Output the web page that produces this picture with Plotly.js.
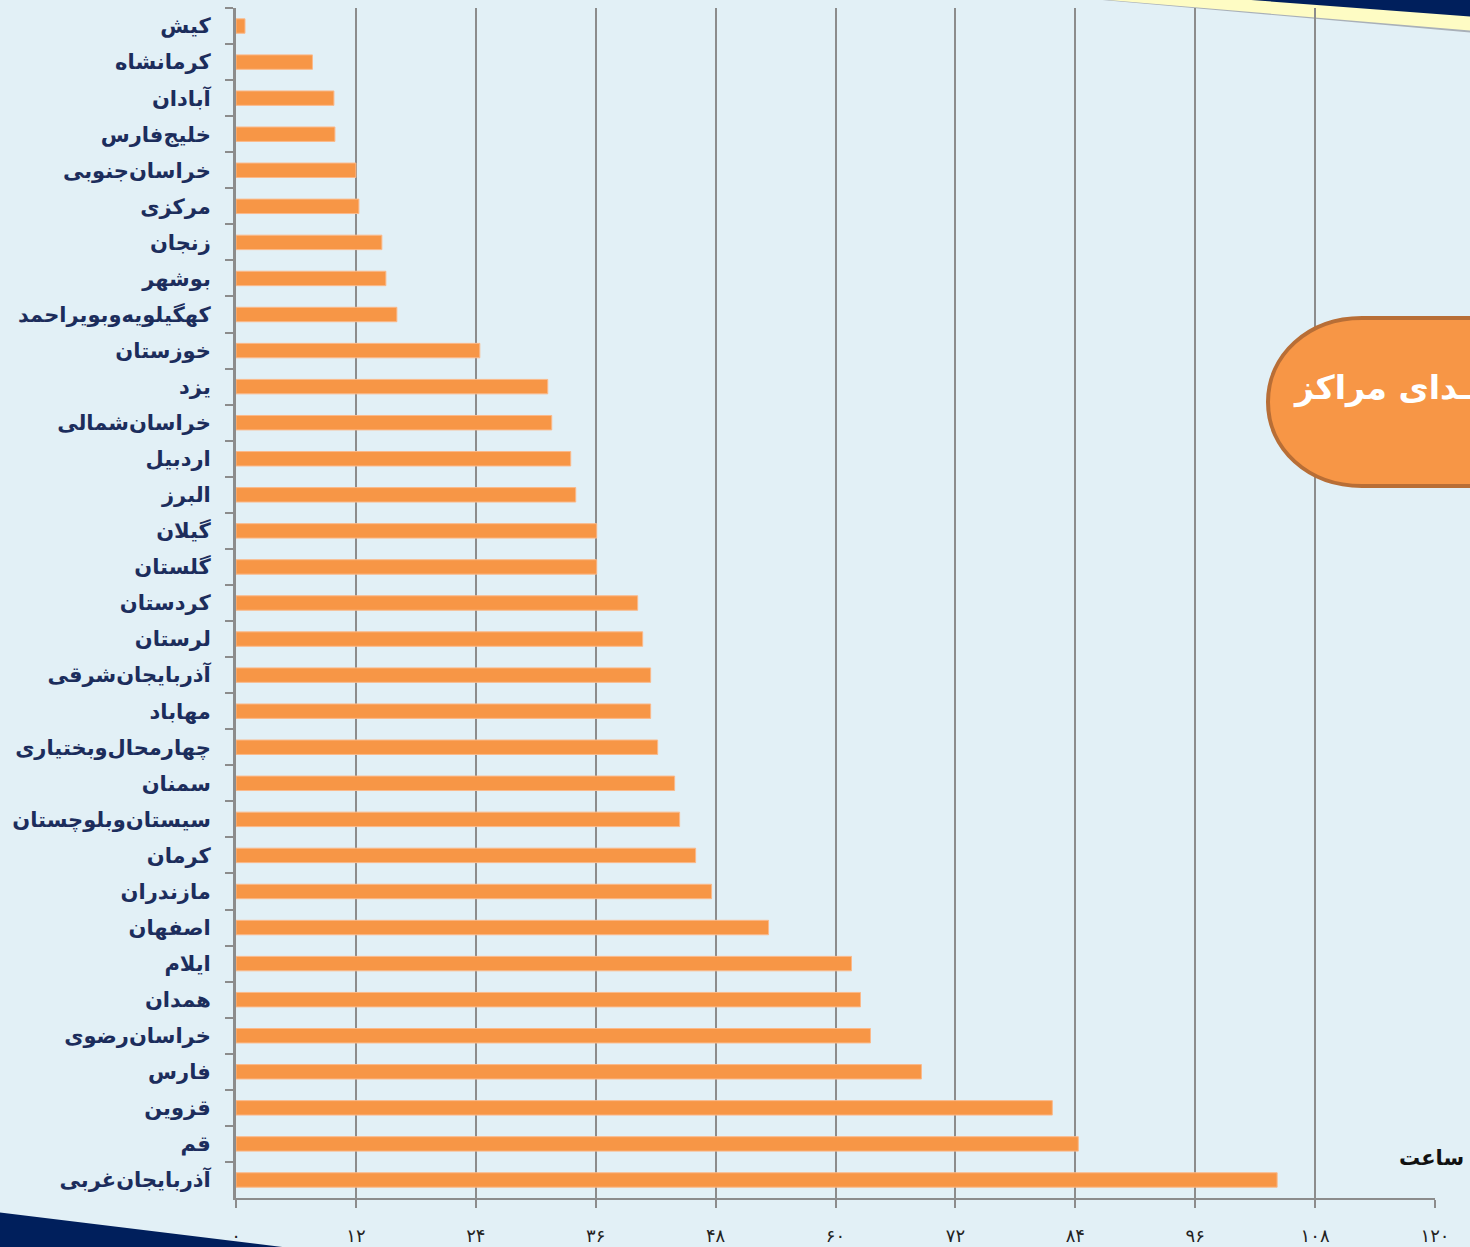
<!DOCTYPE html>
<html>
<head>
<meta charset="utf-8">
<script src="https://cdn.plot.ly/plotly-3.0.1.min.js"></script>
<style>
html,body{margin:0;padding:0;background:#e2f0f6;overflow:hidden;}
#chart{width:1470px;height:1247px;}
</style>
</head>
<body>
<div id="chart"></div>
<script>
// Categories, top to bottom
const provinces = [
  "کیش","کرمانشاه","آبادان","خلیج‌فارس","خراسان‌جنوبی","مرکزی","زنجان","بوشهر",
  "کهگیلویه‌وبویراحمد","خوزستان","یزد","خراسان‌شمالی","اردبیل","البرز","گیلان","گلستان",
  "کردستان","لرستان","آذربایجان‌شرقی","مهاباد","چهارمحال‌وبختیاری","سمنان","سیستان‌وبلوچستان",
  "کرمان","مازندران","اصفهان","ایلام","همدان","خراسان‌رضوی","فارس","قزوین","قم","آذربایجان‌غربی"
];
const hours = [
  0.9, 7.65, 9.8, 9.9, 12.0, 12.3, 14.6, 15.0,
  16.1, 24.4, 31.2, 31.6, 33.5, 34.0, 36.1, 36.1,
  40.2, 40.7, 41.5, 41.5, 42.2, 43.9, 44.4,
  46.0, 47.6, 53.3, 61.6, 62.5, 63.5, 68.6, 81.7, 84.3, 104.2
];
const xTickVals = [0,12,24,36,48,60,72,84,96,108,120];
const xTickText = ["۰","۱۲","۲۴","۳۶","۴۸","۶۰","۷۲","۸۴","۹۶","۱۰۸","۱۲۰"];
const unitLabel = "ساعت";
const boxText = "ـدای مراکز";

// geometry helpers (pixel -> paper)
const W = 1470, H = 1247, L = 236, R = 35, T = 8, B = 49;
const PW = W - L - R, PH = H - T - B;
const px = x => (x - L) / PW;
const py = y => (H - B - y) / PH;
const pt = (x, y) => px(x).toFixed(5) + "," + py(y).toFixed(5);

const boxPath = "M" + pt(1490,318) + " L" + pt(1362,318) +
  " C" + pt(1308,318) + " " + pt(1268,355) + " " + pt(1268,402) +
  " C" + pt(1268,449) + " " + pt(1308,486) + " " + pt(1362,486) +
  " L" + pt(1490,486) + " Z";
const navyTop = "M" + pt(1225,-2) + " L" + pt(1475,-2) + " L" + pt(1475,17) + " Z";
const yellowTop = "M" + pt(1085,-2) + " L" + pt(1475,-2) + " L" + pt(1475,31) + " Z";
const shadowTop = "M" + pt(1080,-2) + " L" + pt(1475,-2) + " L" + pt(1475,33) + " Z";
const navyBottom = "M" + pt(-5,1212) + " L" + pt(307,1250) + " L" + pt(-5,1250) + " Z";

const trace = {
  type: "bar",
  orientation: "h",
  y: provinces,
  x: hours,
  width: 0.4,
  marker: {color: "#f79646", line: {color: "#fbb98a", width: 1}},
  hoverinfo: "x+y"
};

const layout = {
  width: W, height: H,
  margin: {l: L, r: R, t: T, b: B, pad: 0},
  paper_bgcolor: "#e2f0f6",
  plot_bgcolor: "rgba(0,0,0,0)",
  showlegend: false,
  bargap: 0.6,
  font: {family: "DejaVu Sans, sans-serif"},
  xaxis: {
    range: [0, 120],
    tickvals: xTickVals,
    ticktext: xTickText,
    showgrid: true,
    gridcolor: "#8c8c8c",
    gridwidth: 2,
    zeroline: false,
    showline: true,
    linecolor: "#8c8c8c",
    linewidth: 2,
    ticks: "outside",
    ticklen: 8,
    tickwidth: 2,
    tickcolor: "#8c8c8c",
    ticklabelstandoff: 12,
    tickfont: {size: 18, color: "#222222", family: "DejaVu Sans, sans-serif"},
    fixedrange: true
  },
  yaxis: {
    type: "category",
    categoryorder: "array",
    categoryarray: provinces,
    autorange: "reversed",
    showgrid: false,
    zeroline: false,
    showline: true,
    linecolor: "#8c8c8c",
    linewidth: 3,
    ticks: "outside",
    tickson: "boundaries",
    ticklen: 8,
    tickwidth: 2,
    tickcolor: "#8c8c8c",
    ticklabelstandoff: 18,
    tickfont: {size: 21, color: "#1c2d5c", family: "DejaVu Sans, sans-serif", weight: "bold"},
    fixedrange: true
  },
  shapes: [
    {type: "path", xref: "paper", yref: "paper", path: shadowTop, fillcolor: "#a9b0b8", line: {width: 0}, layer: "below"},
    {type: "path", xref: "paper", yref: "paper", path: yellowTop, fillcolor: "#fefcc4", line: {width: 0}, layer: "below"},
    {type: "path", xref: "paper", yref: "paper", path: navyTop, fillcolor: "#001f5c", line: {width: 0}, layer: "below"},
    {type: "path", xref: "paper", yref: "paper", path: navyBottom, fillcolor: "#001f5c", line: {width: 0}, layer: "below"},
    {type: "path", xref: "paper", yref: "paper", path: boxPath, fillcolor: "#f79646", line: {color: "#b86e36", width: 4}, layer: "above"}
  ],
  annotations: [
    {xref: "paper", yref: "paper", x: px(1291), y: py(388), xanchor: "left", yanchor: "middle",
     text: boxText, showarrow: false,
     font: {size: 33, color: "#ffffff", family: "DejaVu Sans, sans-serif", weight: "bold"}},
    {xref: "paper", yref: "paper", x: px(1466), y: py(1158), xanchor: "right", yanchor: "middle",
     text: unitLabel, showarrow: false,
     font: {size: 21, color: "#111111", family: "DejaVu Sans, sans-serif", weight: "bold"}}
  ]
};

Plotly.newPlot("chart", [trace], layout, {displayModeBar: false, staticPlot: true});
</script>
</body>
</html>
